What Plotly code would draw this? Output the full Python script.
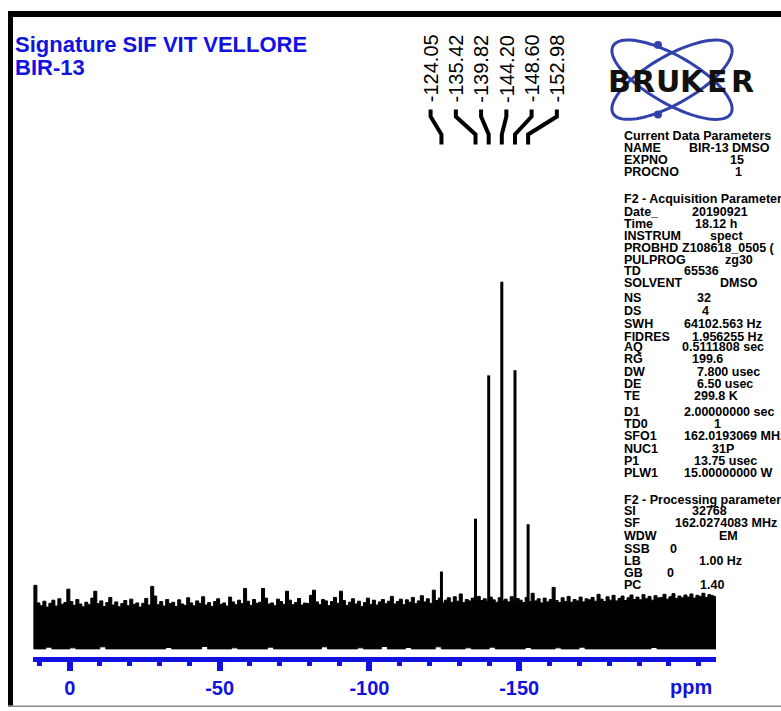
import numpy as np
import plotly.graph_objects as go

# ---------------------------------------------------------------- data
# 31P spectrum (ppm, relative intensity, tallest line = 100)
peak_ppm = [-124.05, -135.42, -139.82, -144.20, -148.60, -152.98]
peak_height = [16.1, 31.4, 72.9, 100.0, 74.4, 29.8]
peak_labels = ["-124.05", "-135.42", "-139.82", "-144.20", "-148.60", "-152.98"]

# baseline noise: upper envelope every 1 ppm from +12 ppm to -216 ppm
noise_start = 12.0
noise_step = -1.0
noise_upper = [
    12.1, 7.0, 6.2, 7.5, 5.8, 6.9, 7.8, 6.1, 8.2, 6.6,
    7.1, 11.0, 7.4, 6.3, 8.0, 6.7, 5.9, 7.2, 6.5, 8.4,
    10.4, 6.8, 7.6, 6.0, 7.1, 8.6, 6.4, 7.3, 5.9, 6.8,
    7.7, 6.2, 8.1, 6.6, 7.0, 5.8, 6.9, 8.3, 6.4, 11.8,
    9.0, 6.5, 7.4, 6.1, 8.0, 6.8, 7.2, 6.0, 7.9, 6.7,
    6.3, 8.5, 7.0, 6.2, 7.6, 6.9, 8.8, 6.4, 7.1, 6.0,
    7.4, 8.2, 6.6, 7.0, 6.1, 8.7, 7.3, 6.5, 7.8, 6.8,
    11.2, 7.5, 6.3, 8.0, 6.9, 7.2, 11.2, 8.4, 6.7, 7.0,
    6.2, 8.1, 7.4, 6.6, 10.4, 7.8, 6.5, 7.1, 8.3, 6.4,
    7.0, 6.8, 9.2, 10.7, 7.3, 6.5, 8.0, 7.6, 6.2, 7.4,
    8.6, 6.9, 10.4, 7.7, 6.3, 7.2, 8.2, 6.7, 7.5, 6.0,
    7.1, 8.4, 6.6, 7.8, 6.4, 7.3, 8.0, 6.8, 7.5, 8.9,
    6.7, 7.4, 8.1, 6.5, 7.9, 7.2, 8.6, 6.8, 7.6, 9.1,
    7.3, 8.2, 6.9, 10.7, 7.7, 8.4, 7.0, 7.8, 8.5, 7.2,
    8.8, 7.5, 9.6, 7.1, 8.0, 7.6, 8.4, 7.3, 8.9, 7.7,
    8.2, 7.4, 8.7, 7.9, 7.2, 8.5, 7.6, 8.1, 7.3, 8.8,
    7.5, 8.3, 7.8, 7.1, 8.6, 7.4, 9.8, 7.6, 8.2, 7.0,
    8.4, 7.3, 8.0, 11.5, 7.7, 7.1, 8.5, 7.4, 8.9, 7.2,
    8.0, 7.6, 8.7, 7.3, 8.2, 7.9, 8.6, 7.5, 9.5, 8.1,
    7.4, 8.8, 7.8, 9.2, 7.6, 8.3, 9.0, 7.7, 8.5, 9.3,
    8.0, 8.7, 7.9, 9.4, 8.2, 8.9, 7.8, 9.1, 8.4, 8.6,
    9.5, 8.1, 8.8, 9.7, 8.3, 9.0, 8.5, 9.3, 8.7, 9.6,
    8.4, 9.2, 8.9, 9.8, 8.6, 9.4, 9.1, 8.8, 9.5,
]
# lower envelope every 2 ppm over the same span
lower_step = -2.0
noise_lower = [
    -6.3, -6.3, -5.8, -6.3, -6.3, -6.3, -6.0, -6.3, -6.3, -6.3,
    -6.3, -5.7, -6.3, -6.3, -6.3, -6.3, -6.1, -6.3, -6.3, -6.3,
    -6.3, -6.3, -5.9, -6.3, -6.3, -6.3, -6.3, -6.3, -5.6, -6.3,
    -6.3, -6.3, -6.3, -6.0, -6.3, -6.3, -6.3, -6.3, -6.3, -5.8,
    -6.3, -6.3, -6.3, -6.3, -6.1, -6.3, -6.3, -6.3, -5.7, -6.3,
    -6.3, -6.3, -6.3, -6.3, -6.0, -6.3, -6.3, -6.3, -5.6, -6.3,
    -6.3, -6.3, -5.9, -6.3, -6.3, -6.3, -6.3, -5.7, -6.3, -6.3,
    -6.3, -6.3, -6.0, -6.3, -6.3, -6.3, -5.8, -6.3, -6.3, -6.3,
    -6.3, -6.3, -5.9, -6.3, -6.3, -6.3, -6.3, -6.0, -6.3, -6.3,
    -6.3, -5.8, -6.3, -6.3, -6.3, -6.3, -6.3, -6.1, -6.3, -6.3,
    -6.3, -6.3, -6.3, -5.9, -6.3, -6.3, -6.3, -6.3, -6.3, -6.3,
    -6.3, -6.3, -6.3, -6.3, -6.3,
]

x_ticks = [0, -50, -100, -150, -200]
x_tick_text = ["0", "-50", "-100", "-150", ""]
x_minor = list(range(10, -220, -10))

title_lines = ["Signature SIF VIT VELLORE", "BIR-13"]
logo_text = "BRUKER"

param_head_1 = "Current Data Parameters"
param_rows_1 = [("NAME", "BIR-13 DMSO"), ("EXPNO", "15"), ("PROCNO", "1")]
param_head_2 = "F2 - Acquisition Parameters"
param_rows_2 = [
    ("Date_", "20190921"), ("Time", "18.12 h"), ("INSTRUM", "spect"),
    ("PROBHD", "Z108618_0505 ("), ("PULPROG", "zg30"), ("TD", "65536"),
    ("SOLVENT", "DMSO"), ("NS", "32"), ("DS", "4"),
    ("SWH", "64102.563 Hz"), ("FIDRES", "1.956255 Hz"), ("AQ", "0.5111808 sec"),
    ("RG", "199.6"), ("DW", "7.800 usec"), ("DE", "6.50 usec"),
    ("TE", "299.8 K"), ("D1", "2.00000000 sec"), ("TD0", "1"),
    ("SFO1", "162.0193069 MHz"), ("NUC1", "31P"), ("P1", "13.75 usec"),
    ("PLW1", "15.00000000 W"),
]
param_head_3 = "F2 - Processing parameters"
param_rows_3 = [
    ("SI", "32768"), ("SF", "162.0274083 MHz"), ("WDW", "EM"),
    ("SSB", "0"), ("LB", "1.00 Hz"), ("GB", "0"), ("PC", "1.40"),
]

# ---------------------------------------------------------------- layout helpers
W, H = 781, 711
ML, MR, MT, MB = 33, 65, 20, 51
PW, PH = W - ML - MR, H - MT - MB
X_RANGE = [12.3, -215.7]
Y_RANGE = [-8.65, 175.8]


def px(x):
    return (x - ML) / PW


def py(y):
    return (H - MB - y) / PH


BLUE = "#1212e0"
LOGO_BLUE = "#3142ac"
TXT_FONT = "Liberation Sans, Arial, sans-serif"

# ---------------------------------------------------------------- traces
fig = go.Figure()

# noise band: stepped upper edge, stepped lower edge, closed polygon
ux, uy = [], []
for i, v in enumerate(noise_upper):
    x0 = noise_start + i * noise_step
    ux += [x0, x0 + noise_step]
    uy += [v, v]
lx, ly = [], []
for i, v in enumerate(noise_lower):
    x0 = noise_start + i * lower_step
    lx += [x0, x0 + lower_step]
    ly += [v, v]
band_x = ux + lx[::-1] + [ux[0]]
band_y = uy + ly[::-1] + [uy[0]]
fig.add_trace(go.Scatter(
    x=band_x, y=band_y, mode="lines", fill="toself",
    fillcolor="black", line=dict(color="black", width=1),
    hoverinfo="skip", showlegend=False,
))

# resonance lines
lx_p, ly_p = [], []
for p, h in zip(peak_ppm, peak_height):
    lx_p += [p, p, None]
    ly_p += [0, h, None]
fig.add_trace(go.Scatter(
    x=lx_p, y=ly_p, mode="lines", line=dict(color="black", width=3),
    showlegend=False, hoverinfo="skip",
))

# ---------------------------------------------------------------- shapes
shapes = []
# frame
shapes.append(dict(type="rect", xref="paper", yref="paper",
                   x0=px(8), x1=px(800), y0=py(17), y1=py(11),
                   fillcolor="black", line=dict(width=0)))
shapes.append(dict(type="rect", xref="paper", yref="paper",
                   x0=px(8), x1=px(13), y0=py(709), y1=py(11),
                   fillcolor="black", line=dict(width=0)))
shapes.append(dict(type="line", xref="paper", yref="paper",
                   x0=px(8), x1=px(800), y0=py(709.5), y1=py(709.5),
                   line=dict(color="#8a8a8a", width=1.5)))

# peak label connectors (label columns evenly spaced, lines bend to the peaks)
LABEL_CENTER = -141.5
LABEL_PITCH = 8.43
n = len(peak_ppm)
label_ppm = [LABEL_CENTER + (i - (n - 1) / 2) * -LABEL_PITCH for i in range(n)]
for lp, p in zip(label_ppm, peak_ppm):
    path = (f"M {lp},{py(110)} L {lp},{py(117)} "
            f"L {p},{py(135)} L {p},{py(145)}")
    shapes.append(dict(type="path", xref="x", yref="paper", path=path,
                       line=dict(color="black", width=4)))


# logo orbits
def orbit(cx, cy, a, b, ang):
    t = np.linspace(0, 2 * np.pi, 90)
    c, s = np.cos(ang), np.sin(ang)
    xs = cx + a * np.cos(t) * c - b * np.sin(t) * s
    ys = cy + a * np.cos(t) * s + b * np.sin(t) * c
    pts = [f"{px(x):.5f},{py(y):.5f}" for x, y in zip(xs, ys)]
    return "M " + " L ".join(pts) + " Z"


for ang in (np.radians(30), np.radians(-30)):
    shapes.append(dict(type="path", xref="paper", yref="paper",
                       path=orbit(672, 80, 68, 24, ang),
                       line=dict(color=LOGO_BLUE, width=3)))
for cy in (45, 115):
    shapes.append(dict(type="circle", xref="paper", yref="paper",
                       x0=px(654), x1=px(662), y0=py(cy + 4), y1=py(cy - 4),
                       fillcolor=LOGO_BLUE, line=dict(width=0)))

# ---------------------------------------------------------------- annotations
ann = []
for txt, y in zip(title_lines, (45, 68)):
    ann.append(dict(text=txt, xref="paper", yref="paper", x=px(13), y=py(y),
                    xanchor="left", yanchor="middle", showarrow=False,
                    font=dict(family=TXT_FONT, size=22, color=BLUE,
                              weight="bold")))

for lp, t in zip(label_ppm, peak_labels):
    ann.append(dict(text=t, xref="x", yref="paper", x=lp, y=py(105),
                    xanchor="center", yanchor="bottom", textangle=-90,
                    showarrow=False,
                    font=dict(family=TXT_FONT, size=20, color="black")))

# logo lettering, spread letter by letter
LOGO_LEFT, LOGO_PITCH = 619, 24.6
for i, ch in enumerate(logo_text):
    ann.append(dict(text=ch, xref="paper", yref="paper",
                    x=px(LOGO_LEFT + i * LOGO_PITCH), y=py(82),
                    xanchor="center", yanchor="middle", showarrow=False,
                    font=dict(family="DejaVu Sans, sans-serif", size=30,
                              color="#111111", weight="bold")))

ann.append(dict(text="ppm", xref="paper", yref="paper", x=px(691), y=py(690),
                xanchor="center", yanchor="middle", showarrow=False,
                font=dict(family=TXT_FONT, size=20, color=BLUE,
                          weight="bold")))

PFONT = dict(family=TXT_FONT, size=12.5, color="black", weight="bold")
LABEL_X = 622


def put(text, x, y):
    ann.append(dict(text=text, xref="paper", yref="paper", x=px(x), y=py(y),
                    xanchor="left", yanchor="middle", showarrow=False,
                    font=PFONT))


head_y = [137, 200, 502]
rows_y = [
    [149, 161, 173],
    [213, 225, 237, 249, 261, 272, 284, 299, 312, 325, 338, 349, 361,
     374, 386, 398, 414, 426, 438, 451, 463, 475],
    [513, 525, 538, 551, 564, 576, 588],
]
value_x = [
    [687, 728, 733],
    [690, 693, 708, 680, 723, 682, 718, 695, 700, 682, 690, 680, 690,
     695, 695, 692, 682, 712, 682, 710, 692, 682],
    [690, 673, 717, 668, 697, 665, 698],
]
for head, rows, hy, ry, vx in zip(
        (param_head_1, param_head_2, param_head_3),
        (param_rows_1, param_rows_2, param_rows_3),
        head_y, rows_y, value_x):
    put(head, LABEL_X, hy)
    for (lab, val), y, x in zip(rows, ry, vx):
        put(lab, LABEL_X, y)
        put(val, x, y)

# ---------------------------------------------------------------- layout
fig.update_layout(
    width=W, height=H,
    margin=dict(l=ML, r=MR, t=MT, b=MB, pad=0),
    paper_bgcolor="white", plot_bgcolor="white",
    showlegend=False,
    shapes=shapes, annotations=ann,
    xaxis=dict(
        range=X_RANGE, showgrid=False, zeroline=False,
        showline=True, linecolor=BLUE, linewidth=5,
        ticks="outside", ticklen=9, tickwidth=6, tickcolor=BLUE,
        tickvals=x_ticks, ticktext=x_tick_text,
        tickfont=dict(family=TXT_FONT, size=20, color=BLUE, weight="bold"),
        minor=dict(tickvals=x_minor, ticks="outside", ticklen=4,
                   tickwidth=5, tickcolor=BLUE),
        fixedrange=True,
    ),
    yaxis=dict(range=Y_RANGE, visible=False, fixedrange=True),
)

fig.write_html("out.html")
